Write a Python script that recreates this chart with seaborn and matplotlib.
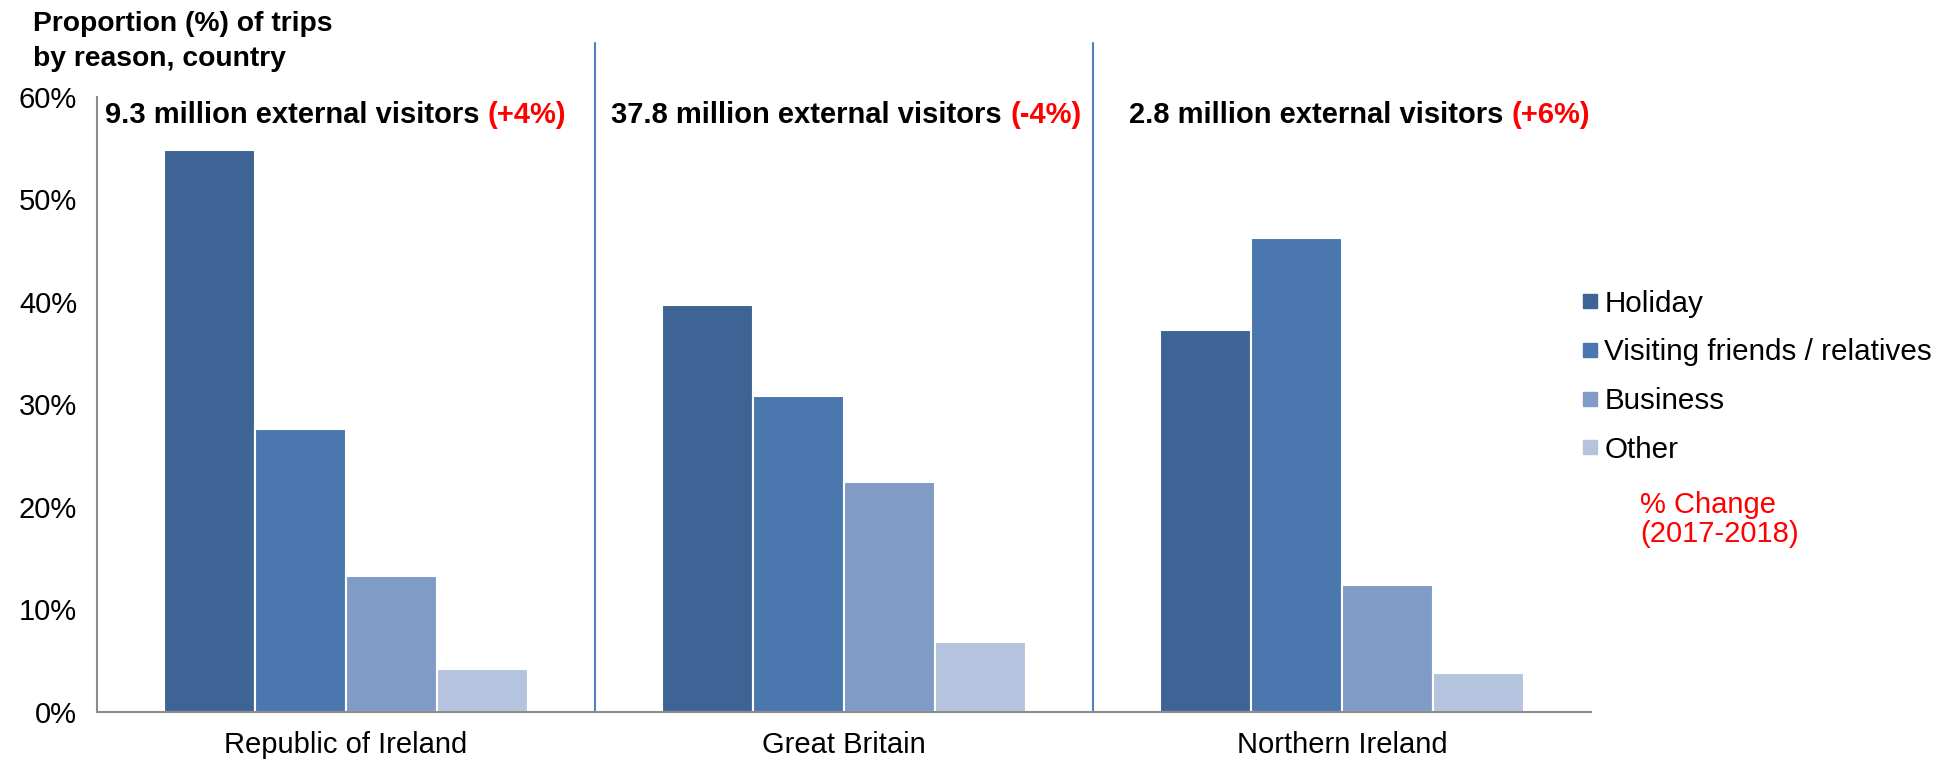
import matplotlib
matplotlib.use("Agg")
import matplotlib.pyplot as plt
import seaborn as sns
import pandas as pd
from matplotlib.lines import Line2D

countries = ["Republic of Ireland", "Great Britain", "Northern Ireland"]
reasons = ["Holiday", "Visiting friends / relatives", "Business", "Other"]
holiday = [54.8, 39.7, 37.2]
vfr = [27.6, 30.8, 46.2]
business = [13.2, 22.4, 12.4]
other = [4.2, 6.8, 3.8]
visitors = ["9.3 million external visitors", "37.8 million external visitors", "2.8 million external visitors"]
changes = ["(+4%)", "(-4%)", "(+6%)"]
yticks = [0, 10, 20, 30, 40, 50, 60]

colors = ["#3D6494", "#4A78AE", "#809CC6", "#B5C4DE"]

rows = []
for vals, r in zip([holiday, vfr, business, other], reasons):
    for c, v in zip(countries, vals):
        rows.append({"country": c, "reason": r, "value": v})
df = pd.DataFrame(rows)

sns.set_style("white")
plt.rcParams["font.family"] = ["Liberation Sans", "DejaVu Sans"]
plt.rcParams["text.color"] = "black"
plt.rcParams["xtick.color"] = "black"
plt.rcParams["ytick.color"] = "black"

fig = plt.figure(figsize=(19.44, 7.61), dpi=100)
ax = fig.add_axes([0.0497, 0.0648, 0.8186 - 0.0497, 0.873 - 0.0648])

sns.barplot(data=df, x="country", y="value", hue="reason", order=countries,
            hue_order=reasons, palette=colors, width=0.73, ax=ax,
            edgecolor="white", linewidth=1.5, legend=False, saturation=1)

ax.set_xlim(-0.5, 2.5)
ax.set_ylim(0, 60)
ax.set_yticks(yticks)
ax.set_yticklabels([f"{t}%" for t in yticks], fontsize=21, color="black")
ax.set_xlabel("")
ax.set_ylabel("")
ax.tick_params(axis="x", length=0, labelsize=21, pad=14, labelcolor="black")
ax.set_xticks([-0.5, 0.5, 1.5, 2.5], minor=True)
ax.tick_params(axis="x", which="minor", length=12, width=1.5, color="#808080", direction="out")
ax.tick_params(axis="y", length=8, width=1.5, color="#808080", direction="out", pad=6)

for s in ["top", "right"]:
    ax.spines[s].set_visible(False)
for s in ["left", "bottom"]:
    ax.spines[s].set_color("#8C8C8C")
    ax.spines[s].set_linewidth(1.5)

for xs in [0.5, 1.5]:
    ax.axvline(xs, ymin=0, ymax=1.087, color="#4F81BD", lw=1.5, clip_on=False)

offsets = [0.017, 0.033, 0.072]
starts = [-0.5, 0.5, 1.5]
for st, off, vis, ch in zip(starts, offsets, visitors, changes):
    t = ax.text(st + off, 58.2, vis + " ", fontsize=21, fontweight="bold",
                color="black", ha="left", va="center")
    ax.annotate(ch, xy=(1, 0), xycoords=t, ha="left", va="bottom",
                fontsize=21, fontweight="bold", color="#FF0000")

handles = [Line2D([0], [0], marker="s", linestyle="none", markersize=10,
                  markerfacecolor=c, markeredgecolor=c) for c in colors]
leg = fig.legend(handles, reasons, loc="upper left", bbox_to_anchor=(0.8055, 0.635),
                 frameon=False, fontsize=21.3, handletextpad=0.1,
                 labelspacing=0.7, handlelength=0.8, borderaxespad=0)

fig.text(0.8435, 0.355, "% Change\n(2017-2018)", color="#FF0000", fontsize=21,
         ha="left", va="top", linespacing=1.05)

fig.text(0.017, 0.985, "Proportion (%) of trips\nby reason, country", fontsize=20.3,
         fontweight="bold", ha="left", va="top", linespacing=1.45, color="black")

fig.savefig("out.png", dpi=100)
